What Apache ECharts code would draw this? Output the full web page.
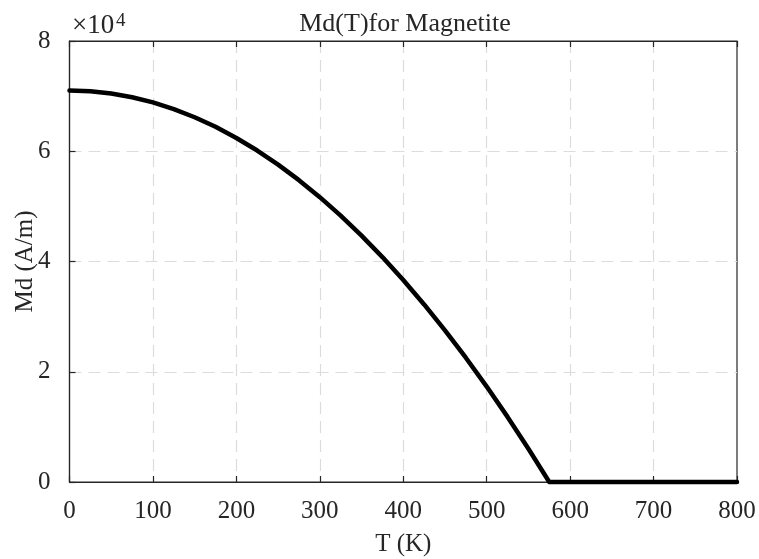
<!DOCTYPE html>
<html>
<head>
<meta charset="utf-8">
<script src="https://cdn.jsdelivr.net/npm/echarts@6/dist/echarts.min.js"></script>
<style>
  html, body { margin: 0; padding: 0; background: #fff; }
  #chart { width: 759px; height: 559px; }
</style>
</head>
<body>
<div id="chart"></div>
<script>
// Temperature samples (K)
const temperature = [0, 25, 50, 75, 100, 125, 150, 175, 200, 225, 250, 275, 300,
  325, 350, 375, 400, 425, 450, 475, 500, 525, 550, 575, 600, 650, 700, 750, 800];
// Spontaneous magnetization Md (A/m)
const magnetization = [71000, 70870, 70460, 69790, 68860, 67640, 66170, 64430, 62410,
  60130, 57580, 54760, 51670, 48320, 44690, 40800, 36640, 32210, 27510, 22550,
  17310, 11810, 6040, 0, 0, 0, 0, 0, 0];
const xTicks = [0, 100, 200, 300, 400, 500, 600, 700, 800];
const yTicks = [0, 2, 4, 6, 8];

const serif = '"Liberation Serif", "DejaVu Serif", serif';
const axisColor = '#262626';
const textColor = '#262626';
const gridDash = { color: '#dcdcdc', type: [12, 7], width: 1.2 };

const chart = echarts.init(document.getElementById('chart'), null, { renderer: 'canvas' });

const points = temperature.map((t, i) => [t, magnetization[i]]);

chart.setOption({
  backgroundColor: '#ffffff',
  animation: false,
  title: [{
    text: 'Md(T)for Magnetite',
    left: 400,
    top: 6,
    textAlign: 'center',
    textStyle: { fontFamily: serif, fontWeight: 'normal', fontSize: 26, color: textColor }
  }, {
    // y-axis scale factor: base
    text: '×10',
    left: 72,
    top: 12,
    padding: 0,
    textStyle: { fontFamily: serif, fontWeight: 'normal', fontSize: 27, lineHeight: 27, color: textColor }
  }, {
    // y-axis scale factor: exponent
    text: '4',
    left: 116,
    top: 12,
    padding: 0,
    textStyle: { fontFamily: serif, fontWeight: 'normal', fontSize: 19, lineHeight: 19, color: textColor }
  }],
  grid: { left: 69.5, right: 22, top: 41, bottom: 77, containLabel: false,
    outerBoundsMode: 'none',
    show: true, borderColor: axisColor, borderWidth: 1.2, backgroundColor: 'transparent' },
  xAxis: [{
    type: 'value', min: 0, max: 800, interval: 100,
    name: 'T (K)', nameLocation: 'middle', nameGap: 50, nameMoveOverlap: false,
    nameTextStyle: { fontFamily: serif, fontSize: 25, color: textColor },
    axisLine: { show: true, lineStyle: { color: axisColor, width: 1.2 } },
    axisTick: { show: true, inside: true, length: 6, lineStyle: { color: axisColor, width: 1.2 } },
    axisLabel: { fontFamily: serif, fontSize: 25, color: textColor, margin: 17,
      formatter: v => xTicks.includes(v) ? String(v) : '' },
    splitLine: { show: true, showMinLine: false, showMaxLine: false, lineStyle: gridDash }
  }, {
    type: 'value', min: 0, max: 800, interval: 100, position: 'top',
    axisLine: { show: true, lineStyle: { color: axisColor, width: 1.2 } },
    axisTick: { show: true, inside: true, length: 6, lineStyle: { color: axisColor, width: 1.2 } },
    axisLabel: { show: false },
    splitLine: { show: false }
  }],
  yAxis: [{
    type: 'value', min: 0, max: 80000, interval: 20000,
    name: 'Md (A/m)', nameLocation: 'middle', nameGap: 32, nameRotate: 90, nameMoveOverlap: false,
    nameTextStyle: { fontFamily: serif, fontSize: 25, color: textColor },
    axisLine: { show: true, lineStyle: { color: axisColor, width: 1.2 } },
    axisTick: { show: true, inside: true, length: 6, lineStyle: { color: axisColor, width: 1.2 } },
    axisLabel: { fontFamily: serif, fontSize: 25, color: textColor, margin: 19,
      formatter: v => { const k = v / 10000; return yTicks.includes(k) ? String(k) : ''; } },
    splitLine: { show: true, showMinLine: false, showMaxLine: false, lineStyle: gridDash }
  }],
  series: [{
    type: 'line',
    data: points,
    showSymbol: false,
    smooth: false,
    clip: false,
    lineStyle: { color: '#000000', width: 4.5, cap: 'round', join: 'round' }
  }]
});
</script>
</body>
</html>
